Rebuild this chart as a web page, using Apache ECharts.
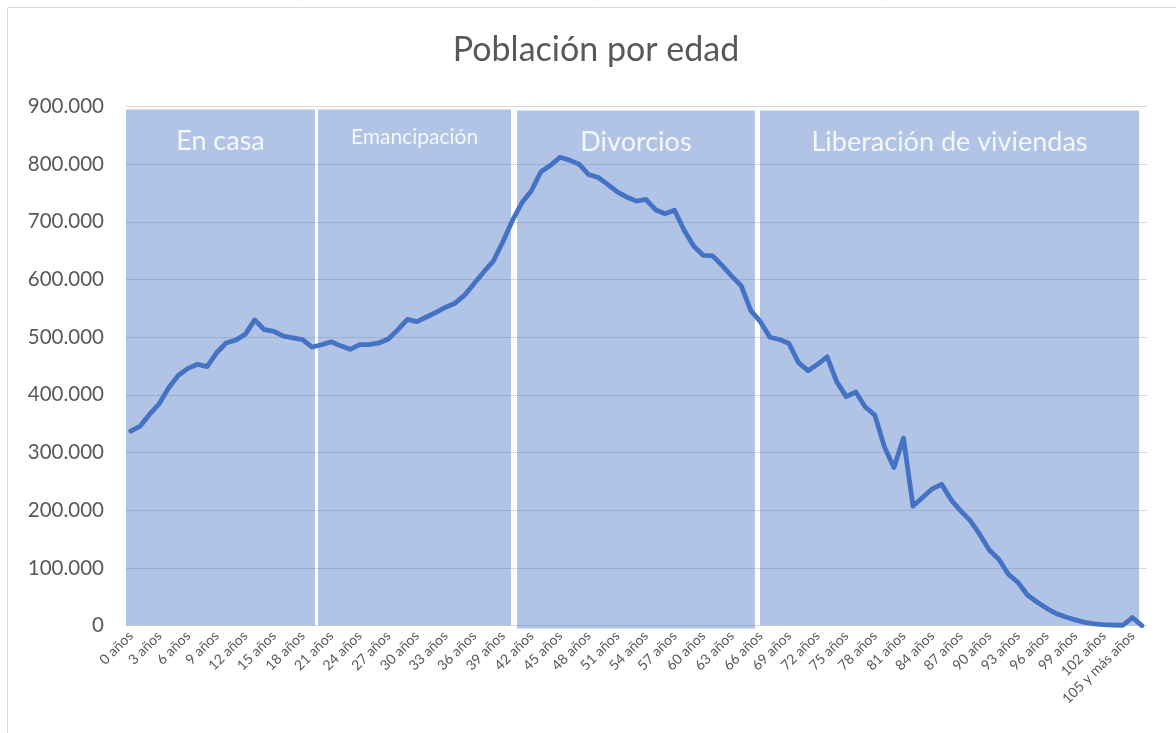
<!DOCTYPE html>
<html><head><meta charset="utf-8">
<script src="https://cdn.jsdelivr.net/npm/echarts@6/dist/echarts.min.js"></script>
<style>html,body{margin:0;padding:0;background:#fff}#c{width:1176px;height:733px}</style>
</head><body><div id="c"></div>
<script>
const chartTitle = 'Población por edad';
const ages = [
 '0 años','1 años','2 años','3 años','4 años','5 años','6 años','7 años','8 años','9 años',
 '10 años','11 años','12 años','13 años','14 años','15 años','16 años','17 años','18 años','19 años',
 '20 años','21 años','22 años','23 años','24 años','25 años','26 años','27 años','28 años','29 años',
 '30 años','31 años','32 años','33 años','34 años','35 años','36 años','37 años','38 años','39 años',
 '40 años','41 años','42 años','43 años','44 años','45 años','46 años','47 años','48 años','49 años',
 '50 años','51 años','52 años','53 años','54 años','55 años','56 años','57 años','58 años','59 años',
 '60 años','61 años','62 años','63 años','64 años','65 años','66 años','67 años','68 años','69 años',
 '70 años','71 años','72 años','73 años','74 años','75 años','76 años','77 años','78 años','79 años',
 '80 años','81 años','82 años','83 años','84 años','85 años','86 años','87 años','88 años','89 años',
 '90 años','91 años','92 años','93 años','94 años','95 años','96 años','97 años','98 años','99 años',
 '100 años','101 años','102 años','103 años','104 años','105 y más años',''
];
const population = [
 337000,346000,367000,385000,413000,434000,446000,453000,449000,473000,
 490000,495000,505000,530000,513000,510000,502000,499000,496000,483000,
 487000,492000,485000,479000,487000,487000,490000,497000,513000,531000,
 527000,535000,543000,552000,559000,573000,593000,613000,632000,665000,
 702000,733000,754000,787000,798000,812000,807000,800000,782000,777000,
 765000,752000,743000,736000,739000,721000,714000,720000,686000,658000,
 642000,641000,624000,606000,589000,546000,527000,500000,496000,489000,
 456000,442000,453000,466000,423000,397000,405000,379000,365000,310000,
 274000,325000,207000,222000,237000,245000,218000,199000,182000,158000,
 131000,115000,89000,75000,53000,41000,30000,21000,15000,10000,
 5500,3000,1800,1000,600,14000,0
];
const yMin = 0, yMax = 900000, yStep = 100000;
// Shaded phases, in age-band units along the category axis
const regionNames = ['En casa','Emancipación','Divorcios','Liberación de viviendas'];
const regionStart = [0, 20.13, 40.99, 66.46];
const regionEnd = [19.81, 40.36, 65.93, 106.2];
const regionTop = [895000, 895000, 893000, 893000];
const regionBottom = [0, 0, -5000, 0];

const FONT = 'Lato, "Open Sans", sans-serif';
const fmt = v => String(v).replace(/\B(?=(\d{3})+(?!\d))/g, '.');

const chart = echarts.init(document.getElementById('c'), null, {renderer:'canvas'});
chart.setOption({
  animation: false,
  backgroundColor: '#ffffff',
  textStyle: {fontFamily: FONT},
  graphic: [
    {type:'rect', shape:{x:7.5, y:7.5, width:1200, height:800}, style:{fill:'none', stroke:'#d9d9d9', lineWidth:1}, z:-10, silent:true},
    {type:'text', x:596, y:50, style:{text:chartTitle, align:'center', verticalAlign:'middle', fill:'#595959', font:'34px ' + FONT}, z:10}
  ],
  grid: {left:126, right:29.3, top:106.5, bottom:107.4, containLabel:false},
  xAxis: [
    {
      type:'category', data: ages, boundaryGap:true,
      axisTick:{show:false},
      axisLine:{lineStyle:{color:'#d9d9d9', width:1}},
      axisLabel:{interval:2, rotate:45, fontSize:14, color:'#595959', margin:8, fontFamily:FONT},
      splitLine:{show:false}
    },
    {type:'value', min:0, max:ages.length, show:false}
  ],
  yAxis: {
    type:'value', min:yMin, max:yMax, interval:yStep,
    axisLine:{show:false}, axisTick:{show:false},
    axisLabel:{formatter: fmt, fontSize:20.5, color:'#595959', margin:22, fontFamily:FONT},
    splitLine:{lineStyle:{color:'#d9d9d9', width:1}}
  },
  series: [
    {
      type:'custom', xAxisIndex:1, yAxisIndex:0, clip:false, z:1, silent:true,
      data: regionNames.map((n,i)=>[regionStart[i], regionEnd[i], regionTop[i], regionBottom[i]]),
      encode:{x:[0,1], y:[2,3]},
      renderItem:(params, api)=>{
        const p0 = api.coord([api.value(0), api.value(2)]);
        const p1 = api.coord([api.value(1), api.value(3)]);
        const name = regionNames[params.dataIndex];
        const small = name === 'Emancipación';
        return {type:'group', children:[
          {type:'rect', shape:{x:p0[0], y:p0[1], width:p1[0]-p0[0], height:p1[1]-p0[1]},
           style:{fill:'rgba(68,114,196,0.42)'}},
          {type:'text', style:{text:name, x:(p0[0]+p1[0])/2, y:p0[1] + (small ? 28 : 32),
            align:'center', verticalAlign:'middle', fill:'#f4f7fb',
            font:(small ? '21px ' : '27px ') + FONT}}
        ]};
      }
    },
    {
      type:'line', data: population, symbol:'none', z:3,
      lineStyle:{color:'#4472C4', width:4.8, join:'round', cap:'round'}
    }
  ]
});
</script></body></html>
